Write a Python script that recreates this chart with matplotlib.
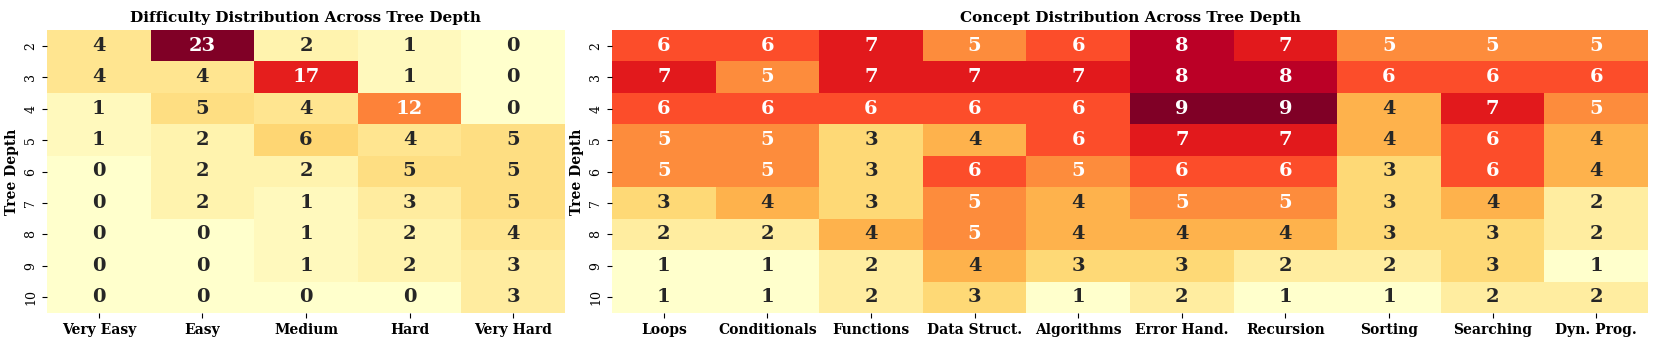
import numpy as np
import matplotlib
matplotlib.use("Agg")
import matplotlib.pyplot as plt
import seaborn as sns

depths = [2, 3, 4, 5, 6, 7, 8, 9, 10]
difficulty_labels = ["Very Easy", "Easy", "Medium", "Hard", "Very Hard"]
concept_labels = ["Loops", "Conditionals", "Functions", "Data Struct.", "Algorithms",
                  "Error Hand.", "Recursion", "Sorting", "Searching", "Dyn. Prog."]

difficulty_counts = [
    [4, 23, 2, 1, 0],
    [4, 4, 17, 1, 0],
    [1, 5, 4, 12, 0],
    [1, 2, 6, 4, 5],
    [0, 2, 2, 5, 5],
    [0, 2, 1, 3, 5],
    [0, 0, 1, 2, 4],
    [0, 0, 1, 2, 3],
    [0, 0, 0, 0, 3],
]

concept_counts = [
    [6, 6, 7, 5, 6, 8, 7, 5, 5, 5],
    [7, 5, 7, 7, 7, 8, 8, 6, 6, 6],
    [6, 6, 6, 6, 6, 9, 9, 4, 7, 5],
    [5, 5, 3, 4, 6, 7, 7, 4, 6, 4],
    [5, 5, 3, 6, 5, 6, 6, 3, 6, 4],
    [3, 4, 3, 5, 4, 5, 5, 3, 4, 2],
    [2, 2, 4, 5, 4, 4, 4, 3, 3, 2],
    [1, 1, 2, 4, 3, 3, 2, 2, 3, 1],
    [1, 1, 2, 3, 1, 2, 1, 1, 2, 2],
]

plt.rcParams['font.family'] = 'DejaVu Serif'

fig = plt.figure(figsize=(16.61, 3.46), dpi=100)
W, H = 1661, 346
top, bottom = 30, 313
ax1 = fig.add_axes([47 / W, 1 - bottom / H, (565 - 47) / W, (bottom - top) / H])
ax2 = fig.add_axes([612 / W, 1 - bottom / H, (1648 - 612) / W, (bottom - top) / H])

annot_kw = {"size": 14, "weight": "bold"}

sns.heatmap(np.array(difficulty_counts), ax=ax1, cmap="YlOrRd", annot=True, fmt="d",
            cbar=False, annot_kws=annot_kw,
            xticklabels=difficulty_labels, yticklabels=depths)
sns.heatmap(np.array(concept_counts), ax=ax2, cmap="YlOrRd", annot=True, fmt="d",
            cbar=False, annot_kws=annot_kw,
            xticklabels=concept_labels, yticklabels=depths)

ax1.set_title("Difficulty Distribution Across Tree Depth", fontsize=11, fontweight="bold", pad=6)
ax2.set_title("Concept Distribution Across Tree Depth", fontsize=11, fontweight="bold", pad=6)

for ax in (ax1, ax2):
    ax.set_ylabel("Tree Depth", fontsize=10, fontweight="bold")
    ax.set_xticklabels(ax.get_xticklabels(), rotation=0, fontsize=10, fontweight="bold")
    ax.set_yticklabels(ax.get_yticklabels(), rotation=90, fontsize=9, va="center")

plt.savefig("out.png", dpi=100)
